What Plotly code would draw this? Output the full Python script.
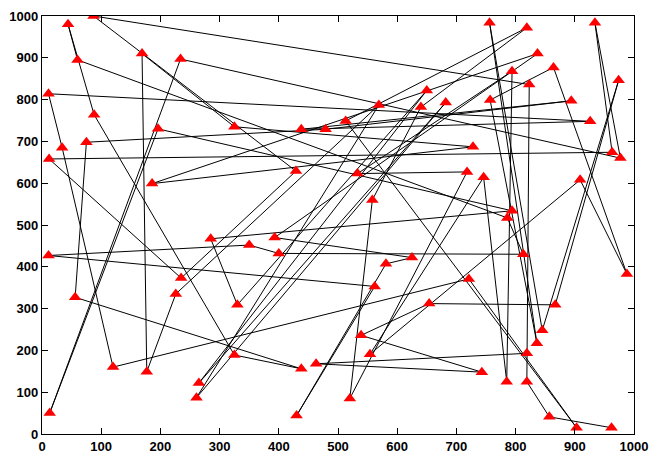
import plotly.graph_objects as go

# City coordinates (id -> x, y)
city_x = [87, 44, 60, 169, 234, 11, 88, 196, 75, 34, 12, 186, 11, 56, 120, 177, 13, 226, 235, 265,
          261, 325, 330, 325, 438, 479, 429, 285, 350, 393, 400, 438, 463, 430, 513, 569, 533, 558, 625, 581,
          562, 539, 554, 520, 654, 640, 650, 682, 757, 756, 728, 718, 746, 721, 743, 819, 837, 794, 864, 823,
          894, 926, 934, 974, 963, 977, 909, 794, 786, 813, 988, 867, 845, 836, 819, 785, 819, 857, 903, 962]
city_y = [1000, 980, 895, 910, 897, 814, 764, 730, 698, 685, 658, 599, 427, 327, 160, 149, 50, 335, 373, 122,
          87, 189, 309, 735, 729, 729, 629, 467, 452, 470, 432, 156, 168, 44, 749, 787, 623, 560, 422, 407,
          353, 236, 191, 85, 312, 782, 822, 793, 799, 984, 687, 627, 614, 371, 148, 972, 910, 868, 877, 836,
          797, 748, 984, 846, 674, 660, 608, 534, 517, 430, 383, 309, 248, 217, 193, 125, 125, 41, 15, 15]

# Visiting order (1-based city ids)
tour = [80, 78, 77, 60, 1, 27, 19, 11, 65, 63, 66, 5, 17, 8, 68, 28, 23, 47, 20, 48,
        21, 36, 18, 16, 4, 24, 51, 12, 57, 30, 39, 40, 34, 41, 13, 29, 31, 70, 69, 3,
        2, 7, 22, 32, 14, 9, 26, 61, 25, 62, 6, 10, 15, 54, 79, 35, 56, 46, 38,
        44, 52, 37, 58, 76, 53, 43, 67, 71, 59, 49, 74, 50, 73, 64, 72, 45, 42, 55, 33, 75]

xs = [city_x[i - 1] for i in tour]
ys = [city_y[i - 1] for i in tour]

fig = go.Figure()
fig.add_trace(go.Scatter(x=xs, y=ys, mode="lines",
                         line=dict(color="black", width=1), hoverinfo="skip"))
fig.add_trace(go.Scatter(x=city_x, y=city_y, mode="markers",
                         marker=dict(symbol="triangle-up", size=11, color="red",
                                     line=dict(width=0))))

axis_common = dict(showgrid=False, zeroline=False, showline=True, linecolor="black", linewidth=1.3,
                   mirror="ticks", ticks="inside", ticklen=6, tickcolor="black", tickwidth=1,
                   tickfont=dict(family="Liberation Sans", size=13, color="black", weight="bold"),
                   range=[0, 1000], dtick=100, tick0=0)

fig.update_layout(
    width=657, height=463, showlegend=False,
    paper_bgcolor="white", plot_bgcolor="white",
    margin=dict(l=42, r=15, t=9, b=21),
    xaxis=axis_common, yaxis=axis_common,
)
fig.write_html("out.html")
